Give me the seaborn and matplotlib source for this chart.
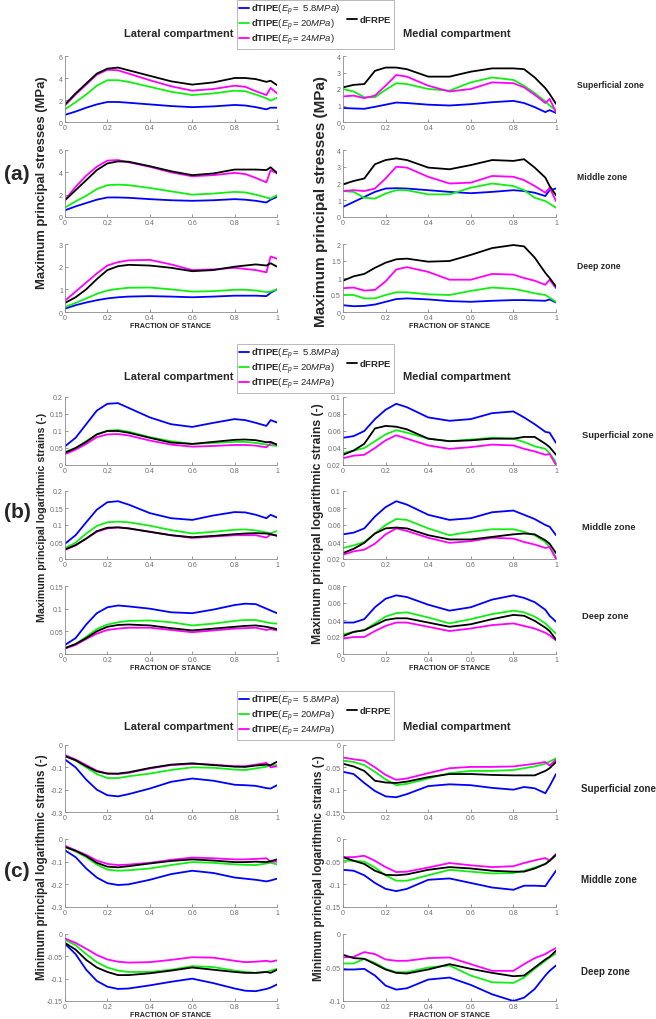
import numpy as np
import pandas as pd
import seaborn as sns
import matplotlib.pyplot as plt
from matplotlib.lines import Line2D

# fraction of stance where values were read
stance = [0, 0.05, 0.1, 0.15, 0.2, 0.25, 0.3, 0.4, 0.5, 0.6, 0.7, 0.8, 0.85, 0.9, 0.95, 0.97, 1.0]

models = ['dTIPE 5.8', 'dTIPE 20', 'dTIPE 24', 'dFRPE']
colors = ['#0000ff', '#11ee11', '#ff00ff', '#000000']

#### (a) maximum principal stresses (MPa)
a_lat_sup_b = [0.65, 0.95, 1.3, 1.6, 1.82, 1.82, 1.75, 1.6, 1.45, 1.35, 1.42, 1.55, 1.5, 1.35, 1.15, 1.3, 1.3]
a_lat_sup_g = [1.15, 1.8, 2.5, 3.3, 3.8, 3.8, 3.65, 3.2, 2.75, 2.45, 2.6, 2.85, 2.8, 2.5, 2.15, 1.95, 2.2]
a_lat_sup_m = [1.5, 2.5, 3.4, 4.3, 4.75, 4.7, 4.4, 3.8, 3.25, 2.85, 3.0, 3.3, 3.2, 2.8, 2.45, 3.1, 2.6]
a_lat_sup_k = [1.6, 2.6, 3.5, 4.4, 4.85, 4.95, 4.7, 4.2, 3.7, 3.4, 3.6, 4.0, 4.0, 3.9, 3.65, 3.75, 3.35]

a_lat_mid_b = [0.6, 0.95, 1.25, 1.55, 1.75, 1.75, 1.72, 1.6, 1.5, 1.45, 1.5, 1.6, 1.55, 1.45, 1.3, 1.55, 1.8]
a_lat_mid_g = [0.85, 1.4, 1.9, 2.5, 2.85, 2.9, 2.85, 2.6, 2.3, 2.0, 2.1, 2.25, 2.2, 2.0, 1.75, 1.65, 1.95]
a_lat_mid_m = [1.55, 2.7, 3.7, 4.5, 5.05, 5.1, 4.9, 4.5, 4.0, 3.65, 3.75, 3.95, 3.85, 3.5, 3.1, 4.2, 3.9]
a_lat_mid_k = [1.5, 2.4, 3.3, 4.2, 4.8, 4.98, 4.95, 4.55, 4.1, 3.75, 3.9, 4.25, 4.25, 4.25, 4.2, 4.45, 3.95]

a_lat_dep_b = [0.15, 0.3, 0.42, 0.52, 0.6, 0.65, 0.68, 0.7, 0.68, 0.65, 0.68, 0.72, 0.72, 0.72, 0.7, 0.85, 1.0]
a_lat_dep_g = [0.22, 0.4, 0.6, 0.8, 0.95, 1.02, 1.07, 1.08, 1.0, 0.9, 0.92, 0.98, 0.98, 0.95, 0.88, 0.9, 1.0]
a_lat_dep_m = [0.5, 0.9, 1.3, 1.7, 2.05, 2.2, 2.28, 2.3, 2.1, 1.85, 1.88, 1.95, 1.9, 1.85, 1.75, 2.45, 2.35]
a_lat_dep_k = [0.4, 0.65, 1.0, 1.45, 1.85, 2.02, 2.08, 2.05, 1.95, 1.8, 1.85, 2.0, 2.05, 2.1, 2.05, 2.15, 2.0]

a_med_sup_b = [0.85, 0.82, 0.8, 0.92, 1.05, 1.18, 1.15, 1.05, 1.0, 1.08, 1.2, 1.28, 1.15, 0.9, 0.6, 0.72, 0.55]
a_med_sup_g = [2.0, 1.85, 1.5, 1.5, 1.95, 2.35, 2.3, 2.0, 1.9, 2.4, 2.7, 2.55, 2.2, 1.75, 1.25, 1.0, 0.7]
a_med_sup_m = [1.55, 1.6, 1.45, 1.6, 2.2, 2.85, 2.75, 2.2, 1.85, 2.0, 2.4, 2.35, 2.1, 1.65, 1.15, 1.4, 0.6]
a_med_sup_k = [2.1, 2.25, 2.3, 3.1, 3.3, 3.3, 3.2, 2.75, 2.75, 3.05, 3.25, 3.25, 3.2, 2.7, 2.05, 1.7, 1.1]

a_med_mid_b = [0.6, 0.9, 1.2, 1.5, 1.7, 1.72, 1.7, 1.6, 1.5, 1.42, 1.5, 1.6, 1.55, 1.45, 1.25, 1.6, 1.7]
a_med_mid_g = [1.55, 1.5, 1.15, 1.1, 1.4, 1.6, 1.6, 1.35, 1.35, 1.75, 2.0, 1.85, 1.6, 1.15, 0.95, 0.8, 0.55]
a_med_mid_m = [1.55, 1.6, 1.55, 1.7, 2.3, 3.0, 2.95, 2.4, 2.0, 2.05, 2.45, 2.4, 2.2, 1.85, 1.45, 1.75, 0.95]
a_med_mid_k = [1.95, 2.15, 2.3, 3.15, 3.4, 3.5, 3.4, 2.95, 2.85, 3.1, 3.4, 3.35, 3.45, 2.95, 2.35, 1.85, 1.3]

a_med_dep_b = [0.2, 0.17, 0.18, 0.22, 0.3, 0.38, 0.4, 0.37, 0.32, 0.3, 0.33, 0.35, 0.35, 0.34, 0.33, 0.37, 0.28]
a_med_dep_g = [0.5, 0.5, 0.4, 0.4, 0.5, 0.58, 0.58, 0.52, 0.5, 0.62, 0.72, 0.68, 0.62, 0.55, 0.5, 0.42, 0.3]
a_med_dep_m = [0.7, 0.72, 0.63, 0.65, 0.9, 1.25, 1.32, 1.18, 0.95, 0.95, 1.12, 1.1, 1.0, 0.92, 0.8, 0.95, 0.7]
a_med_dep_k = [0.92, 1.05, 1.12, 1.3, 1.45, 1.55, 1.57, 1.48, 1.5, 1.68, 1.88, 1.97, 1.93, 1.6, 1.15, 1.0, 0.75]

#### (b) maximum principal logarithmic strains
b_lat_sup_b = [0.055, 0.08, 0.12, 0.16, 0.18, 0.182, 0.168, 0.14, 0.12, 0.112, 0.124, 0.135, 0.132, 0.124, 0.115, 0.132, 0.125]
b_lat_sup_g = [0.038, 0.05, 0.07, 0.09, 0.101, 0.103, 0.098, 0.082, 0.07, 0.062, 0.065, 0.068, 0.068, 0.065, 0.06, 0.058, 0.056]
b_lat_sup_m = [0.032, 0.045, 0.062, 0.082, 0.09, 0.091, 0.087, 0.072, 0.06, 0.054, 0.056, 0.059, 0.059, 0.057, 0.052, 0.064, 0.06]
b_lat_sup_k = [0.036, 0.05, 0.068, 0.09, 0.1, 0.1, 0.095, 0.08, 0.066, 0.062, 0.068, 0.074, 0.075, 0.073, 0.067, 0.068, 0.06]

b_lat_mid_b = [0.045, 0.07, 0.108, 0.145, 0.167, 0.17, 0.16, 0.135, 0.12, 0.115, 0.128, 0.138, 0.137, 0.13, 0.12, 0.13, 0.122]
b_lat_mid_g = [0.032, 0.048, 0.075, 0.097, 0.108, 0.11, 0.108, 0.098, 0.085, 0.075, 0.08, 0.086, 0.087, 0.084, 0.078, 0.076, 0.082]
b_lat_mid_m = [0.027, 0.04, 0.06, 0.08, 0.09, 0.093, 0.09, 0.08, 0.07, 0.062, 0.066, 0.07, 0.07, 0.07, 0.063, 0.072, 0.07]
b_lat_mid_k = [0.028, 0.041, 0.06, 0.082, 0.092, 0.093, 0.09, 0.08, 0.07, 0.064, 0.068, 0.073, 0.075, 0.076, 0.075, 0.073, 0.068]

b_lat_dep_b = [0.02, 0.035, 0.065, 0.09, 0.103, 0.107, 0.105, 0.1, 0.092, 0.09, 0.098, 0.108, 0.111, 0.11, 0.1, 0.096, 0.09]
b_lat_dep_g = [0.013, 0.022, 0.038, 0.055, 0.065, 0.07, 0.073, 0.074, 0.07, 0.063, 0.067, 0.073, 0.075, 0.075, 0.07, 0.068, 0.067]
b_lat_dep_m = [0.012, 0.02, 0.033, 0.045, 0.053, 0.056, 0.058, 0.058, 0.053, 0.048, 0.052, 0.056, 0.057, 0.058, 0.053, 0.055, 0.052]
b_lat_dep_k = [0.013, 0.022, 0.035, 0.05, 0.06, 0.064, 0.065, 0.063, 0.057, 0.052, 0.056, 0.06, 0.062, 0.063, 0.06, 0.058, 0.055]

b_med_sup_b = [0.052, 0.054, 0.06, 0.074, 0.085, 0.092, 0.088, 0.076, 0.072, 0.074, 0.081, 0.083, 0.076, 0.068, 0.059, 0.058, 0.046]
b_med_sup_g = [0.034, 0.037, 0.04, 0.048, 0.056, 0.061, 0.058, 0.051, 0.048, 0.05, 0.052, 0.051, 0.047, 0.042, 0.039, 0.034, 0.023]
b_med_sup_m = [0.028, 0.031, 0.032, 0.04, 0.049, 0.055, 0.051, 0.043, 0.039, 0.041, 0.044, 0.043, 0.039, 0.036, 0.032, 0.033, 0.02]
b_med_sup_k = [0.032, 0.037, 0.045, 0.063, 0.066, 0.065, 0.062, 0.051, 0.048, 0.049, 0.051, 0.051, 0.053, 0.053, 0.045, 0.041, 0.032]

b_med_mid_b = [0.049, 0.051, 0.056, 0.07, 0.081, 0.088, 0.084, 0.072, 0.066, 0.068, 0.075, 0.077, 0.072, 0.067, 0.06, 0.058, 0.048]
b_med_mid_g = [0.033, 0.036, 0.04, 0.05, 0.06, 0.067, 0.066, 0.056, 0.048, 0.052, 0.055, 0.055, 0.052, 0.048, 0.04, 0.034, 0.022]
b_med_mid_m = [0.025, 0.029, 0.031, 0.038, 0.049, 0.056, 0.053, 0.045, 0.039, 0.041, 0.045, 0.044, 0.04, 0.037, 0.033, 0.034, 0.02]
b_med_mid_k = [0.027, 0.032, 0.039, 0.05, 0.056, 0.057, 0.056, 0.048, 0.043, 0.043, 0.046, 0.049, 0.05, 0.049, 0.042, 0.038, 0.027]

b_med_dep_b = [0.037, 0.037, 0.041, 0.055, 0.065, 0.069, 0.067, 0.058, 0.051, 0.055, 0.064, 0.069, 0.066, 0.061, 0.052, 0.045, 0.038]
b_med_dep_g = [0.023, 0.026, 0.028, 0.036, 0.044, 0.048, 0.049, 0.043, 0.036, 0.041, 0.047, 0.051, 0.049, 0.044, 0.036, 0.031, 0.024]
b_med_dep_m = [0.018, 0.02, 0.02, 0.027, 0.033, 0.037, 0.037, 0.032, 0.027, 0.03, 0.034, 0.036, 0.033, 0.03, 0.025, 0.022, 0.016]
b_med_dep_k = [0.021, 0.026, 0.028, 0.034, 0.04, 0.042, 0.042, 0.037, 0.032, 0.035, 0.041, 0.046, 0.045, 0.039, 0.031, 0.027, 0.017]

#### (c) minimum principal logarithmic strains
c_lat_sup_b = [-0.065, -0.1, -0.155, -0.2, -0.225, -0.23, -0.22, -0.195, -0.165, -0.15, -0.16, -0.178, -0.18, -0.183, -0.193, -0.195, -0.18]
c_lat_sup_g = [-0.05, -0.07, -0.1, -0.13, -0.148, -0.148, -0.14, -0.128, -0.112, -0.1, -0.102, -0.11, -0.112, -0.105, -0.097, -0.093, -0.09]
c_lat_sup_m = [-0.045, -0.065, -0.09, -0.115, -0.128, -0.13, -0.125, -0.105, -0.09, -0.085, -0.088, -0.095, -0.095, -0.088, -0.08, -0.1, -0.095]
c_lat_sup_k = [-0.05, -0.068, -0.095, -0.118, -0.128, -0.128, -0.122, -0.103, -0.088, -0.082, -0.09, -0.097, -0.098, -0.092, -0.088, -0.09, -0.075]

c_lat_mid_b = [-0.05, -0.08, -0.13, -0.17, -0.195, -0.203, -0.2, -0.18, -0.155, -0.14, -0.15, -0.17, -0.175, -0.18, -0.187, -0.183, -0.175]
c_lat_mid_g = [-0.035, -0.055, -0.08, -0.113, -0.135, -0.14, -0.138, -0.13, -0.115, -0.102, -0.105, -0.112, -0.114, -0.115, -0.108, -0.105, -0.112]
c_lat_mid_m = [-0.03, -0.05, -0.07, -0.095, -0.11, -0.115, -0.113, -0.105, -0.092, -0.082, -0.085, -0.09, -0.09, -0.088, -0.085, -0.1, -0.1]
c_lat_mid_k = [-0.035, -0.052, -0.075, -0.105, -0.122, -0.125, -0.12, -0.108, -0.097, -0.09, -0.095, -0.102, -0.102, -0.1, -0.102, -0.098, -0.09]

c_lat_dep_b = [-0.022, -0.045, -0.08, -0.105, -0.118, -0.123, -0.122, -0.115, -0.107, -0.1, -0.11, -0.122, -0.127, -0.128, -0.123, -0.12, -0.113]
c_lat_dep_g = [-0.013, -0.025, -0.045, -0.063, -0.075, -0.082, -0.085, -0.085, -0.08, -0.072, -0.074, -0.082, -0.085, -0.087, -0.085, -0.082, -0.078]
c_lat_dep_m = [-0.01, -0.02, -0.033, -0.047, -0.057, -0.062, -0.064, -0.063, -0.058, -0.052, -0.053, -0.06, -0.063, -0.062, -0.06, -0.062, -0.059]
c_lat_dep_k = [-0.02, -0.035, -0.058, -0.075, -0.085, -0.092, -0.092, -0.088, -0.082, -0.075, -0.08, -0.085, -0.087, -0.087, -0.085, -0.087, -0.08]

c_med_sup_b = [-0.06, -0.065, -0.085, -0.103, -0.115, -0.117, -0.11, -0.092, -0.088, -0.09, -0.096, -0.1, -0.094, -0.097, -0.108, -0.092, -0.065]
c_med_sup_g = [-0.035, -0.038, -0.045, -0.06, -0.077, -0.09, -0.087, -0.075, -0.063, -0.058, -0.058, -0.056, -0.052, -0.048, -0.042, -0.037, -0.03]
c_med_sup_m = [-0.028, -0.032, -0.035, -0.05, -0.067, -0.078, -0.075, -0.063, -0.052, -0.049, -0.049, -0.048, -0.045, -0.042, -0.038, -0.046, -0.033]
c_med_sup_k = [-0.042, -0.048, -0.058, -0.08, -0.084, -0.085, -0.082, -0.072, -0.065, -0.065, -0.067, -0.068, -0.068, -0.068, -0.058, -0.052, -0.038]

c_med_mid_b = [-0.068, -0.07, -0.08, -0.097, -0.11, -0.115, -0.11, -0.09, -0.087, -0.097, -0.107, -0.112, -0.103, -0.103, -0.104, -0.09, -0.07]
c_med_mid_g = [-0.048, -0.048, -0.05, -0.063, -0.08, -0.092, -0.092, -0.08, -0.068, -0.072, -0.076, -0.075, -0.07, -0.063, -0.055, -0.048, -0.035]
c_med_mid_m = [-0.04, -0.04, -0.037, -0.048, -0.062, -0.073, -0.072, -0.063, -0.053, -0.058, -0.062, -0.06, -0.053, -0.047, -0.042, -0.048, -0.033]
c_med_mid_k = [-0.04, -0.048, -0.055, -0.07, -0.079, -0.08, -0.078, -0.068, -0.062, -0.065, -0.07, -0.072, -0.072, -0.065, -0.055, -0.048, -0.035]

c_med_dep_b = [-0.053, -0.053, -0.052, -0.062, -0.077, -0.083, -0.081, -0.068, -0.065, -0.076, -0.09, -0.1, -0.095, -0.082, -0.062, -0.055, -0.047]
c_med_dep_g = [-0.044, -0.044, -0.037, -0.043, -0.052, -0.057, -0.057, -0.05, -0.047, -0.062, -0.072, -0.073, -0.065, -0.052, -0.04, -0.035, -0.029]
c_med_dep_m = [-0.035, -0.034, -0.027, -0.03, -0.038, -0.04, -0.04, -0.036, -0.035, -0.045, -0.055, -0.055, -0.045, -0.036, -0.03, -0.026, -0.021]
c_med_dep_k = [-0.031, -0.036, -0.037, -0.045, -0.053, -0.058, -0.059, -0.053, -0.045, -0.052, -0.058, -0.063, -0.062, -0.05, -0.038, -0.034, -0.025]

zones = ['Superficial zone', 'Middle zone', 'Deep zone']

sns.set_style('ticks')
plt.rcParams['font.family'] = ['Liberation Sans', 'DejaVu Sans']
plt.rcParams['mathtext.fontset'] = 'custom'
plt.rcParams['mathtext.rm'] = 'Liberation Sans'
plt.rcParams['mathtext.it'] = 'Liberation Sans:italic'
plt.rcParams['mathtext.bf'] = 'Liberation Sans:bold'

W, H = 656, 1020
fig = plt.figure(figsize=(W / 100, H / 100), dpi=100)


def fx(x):
    return x / W


def fy(y):
    return 1 - y / H


def make_ax(x0, x1, y0, y1):
    return fig.add_axes([fx(x0), fy(y1), fx(x1 - x0), (y1 - y0) / H])


def draw(ax, ys, ylim, yticks, bottom):
    df = pd.DataFrame({'stance': stance * 4,
                       'value': sum(ys, []),
                       'model': np.repeat(models, len(stance))})
    sns.lineplot(data=df, x='stance', y='value', hue='model', hue_order=models,
                 palette=dict(zip(models, colors)), linewidth=1.3, legend=False,
                 estimator=None, sort=False, ax=ax)
    for sp in ['top', 'right']:
        ax.spines[sp].set_visible(False)
    for sp in ['left', 'bottom']:
        ax.spines[sp].set_color('#8c8c8c')
        ax.spines[sp].set_linewidth(0.6)
    ax.set_xlim(0, 1)
    ax.set_ylim(*ylim)
    ax.set_xticks([0, 0.2, 0.4, 0.6, 0.8, 1])
    ax.set_xticklabels(['0', '0.2', '0.4', '0.6', '0.8', '1'])
    ax.set_yticks(yticks)
    ax.set_yticklabels([f'{v:g}' for v in yticks])
    ax.tick_params(labelsize=5, colors='#6e6e6e', length=2, width=0.5, direction='in', pad=1.5)
    ax.set_ylabel('')
    if bottom:
        ax.set_xlabel('FRACTION OF STANCE', fontsize=5.2, fontweight='bold', labelpad=1)
    else:
        ax.set_xlabel('')


lat_x = (65, 277)
med_x = (343, 556)

# label sizes / positions differ a bit between the three stacked figures
sections = [
    dict(tag='(a)', tag_y=175, ylabel='Maximum principal stresses (MPa)',
         lat_lab=(9.4, 42, 183), med_lab=(11.0, 321, 202),
         rows=[(57, 123), (151, 218), (245, 313)], legend_top=1, title_y=34,
         zone_y=[85, 177, 267], zone_x=577, zone_size=6.2,
         lat=[([a_lat_sup_b, a_lat_sup_g, a_lat_sup_m, a_lat_sup_k], (0, 6), [0, 2, 4, 6]),
              ([a_lat_mid_b, a_lat_mid_g, a_lat_mid_m, a_lat_mid_k], (0, 6), [0, 2, 4, 6]),
              ([a_lat_dep_b, a_lat_dep_g, a_lat_dep_m, a_lat_dep_k], (0, 3), [0, 1, 2, 3])],
         med=[([a_med_sup_b, a_med_sup_g, a_med_sup_m, a_med_sup_k], (0, 4), [0, 1, 2, 3, 4]),
              ([a_med_mid_b, a_med_mid_g, a_med_mid_m, a_med_mid_k], (0, 4), [0, 1, 2, 3, 4]),
              ([a_med_dep_b, a_med_dep_g, a_med_dep_m, a_med_dep_k], (0, 2), [0, 0.5, 1, 1.5, 2])]),
    dict(tag='(b)', tag_y=513, ylabel='Maximum principal logarithmic strains (-)',
         lat_lab=(7.7, 42, 517), med_lab=(8.8, 318, 524),
         rows=[(398, 466), (492, 560), (587, 655)], legend_top=345, title_y=377,
         zone_y=[436, 527, 617], zone_x=582, zone_size=6.7,
         lat=[([b_lat_sup_b, b_lat_sup_g, b_lat_sup_m, b_lat_sup_k], (0, 0.2), [0, 0.05, 0.1, 0.15, 0.2]),
              ([b_lat_mid_b, b_lat_mid_g, b_lat_mid_m, b_lat_mid_k], (0, 0.2), [0, 0.05, 0.1, 0.15, 0.2]),
              ([b_lat_dep_b, b_lat_dep_g, b_lat_dep_m, b_lat_dep_k], (0, 0.15), [0, 0.05, 0.1, 0.15])],
         med=[([b_med_sup_b, b_med_sup_g, b_med_sup_m, b_med_sup_k], (0.02, 0.1), [0.02, 0.04, 0.06, 0.08, 0.1]),
              ([b_med_mid_b, b_med_mid_g, b_med_mid_m, b_med_mid_k], (0.02, 0.1), [0.02, 0.04, 0.06, 0.08, 0.1]),
              ([b_med_dep_b, b_med_dep_g, b_med_dep_m, b_med_dep_k], (0, 0.08), [0, 0.02, 0.04, 0.06, 0.08])]),
    dict(tag='(c)', tag_y=872, ylabel='Minimum principal logarithmic strains (-)',
         lat_lab=(8.4, 42, 867), med_lab=(8.4, 319, 868),
         rows=[(746, 813), (840, 908), (935, 1002)], legend_top=692, title_y=727,
         zone_y=[789, 880, 972], zone_x=581, zone_size=7.0,
         lat=[([c_lat_sup_b, c_lat_sup_g, c_lat_sup_m, c_lat_sup_k], (-0.3, 0), [-0.3, -0.2, -0.1, 0]),
              ([c_lat_mid_b, c_lat_mid_g, c_lat_mid_m, c_lat_mid_k], (-0.3, 0), [-0.3, -0.2, -0.1, 0]),
              ([c_lat_dep_b, c_lat_dep_g, c_lat_dep_m, c_lat_dep_k], (-0.15, 0), [-0.15, -0.1, -0.05, 0])],
         med=[([c_med_sup_b, c_med_sup_g, c_med_sup_m, c_med_sup_k], (-0.15, 0), [-0.15, -0.1, -0.05, 0]),
              ([c_med_mid_b, c_med_mid_g, c_med_mid_m, c_med_mid_k], (-0.15, 0), [-0.15, -0.1, -0.05, 0]),
              ([c_med_dep_b, c_med_dep_g, c_med_dep_m, c_med_dep_k], (-0.1, 0), [-0.1, -0.05, 0])]),
]

labels = [r'$\mathbf{dTIPE}$$\mathit{(E_{p}{=}\ 5.8MPa)}$',
          r'$\mathbf{dTIPE}$$\mathit{(E_{p}{=}20MPa)}$',
          r'$\mathbf{dTIPE}$$\mathit{(E_{p}{=}24MPa)}$',
          '', r'$\mathbf{dFRPE}$', '']
blank = Line2D([], [], color='none')
handles = [Line2D([], [], color=colors[0], lw=1.3),
           Line2D([], [], color=colors[1], lw=1.3),
           Line2D([], [], color=colors[2], lw=1.3),
           blank, Line2D([], [], color=colors[3], lw=1.3), blank]

for sec in sections:
    for i, (y0, y1) in enumerate(sec['rows']):
        ax = make_ax(lat_x[0], lat_x[1], y0, y1)
        ys, ylim, yt = sec['lat'][i]
        draw(ax, ys, ylim, yt, i == 2)
        ax = make_ax(med_x[0], med_x[1], y0, y1)
        ys, ylim, yt = sec['med'][i]
        draw(ax, ys, ylim, yt, i == 2)
        fig.text(fx(sec['zone_x']), fy(sec['zone_y'][i]), zones[i], fontsize=sec['zone_size'],
                 fontweight='bold', ha='left', va='center')
    for size, x, y in [sec['lat_lab'], sec['med_lab']]:
        fig.text(fx(x), fy(y), sec['ylabel'], rotation=90, fontsize=size,
                 fontweight='bold', ha='center', va='center')
    fig.text(fx(17), fy(sec['tag_y']), sec['tag'], fontsize=15, fontweight='bold',
             ha='center', va='center')
    fig.text(fx(179), fy(sec['title_y']), 'Lateral compartment', fontsize=7.9,
             fontweight='bold', ha='center', va='center')
    fig.text(fx(457), fy(sec['title_y']), 'Medial compartment', fontsize=7.9,
             fontweight='bold', ha='center', va='center')
    leg = fig.legend(handles, labels, loc='upper left', ncol=2,
                     bbox_to_anchor=(fx(237), fy(sec['legend_top'])),
                     fontsize=6.8, frameon=True, fancybox=False, edgecolor='#9a9a9a',
                     handlelength=1.1, handletextpad=0.2, columnspacing=0.7,
                     borderpad=0.2, labelspacing=0.0, borderaxespad=0)
    leg.get_frame().set_linewidth(0.6)

fig.savefig('out.png', dpi=100)
